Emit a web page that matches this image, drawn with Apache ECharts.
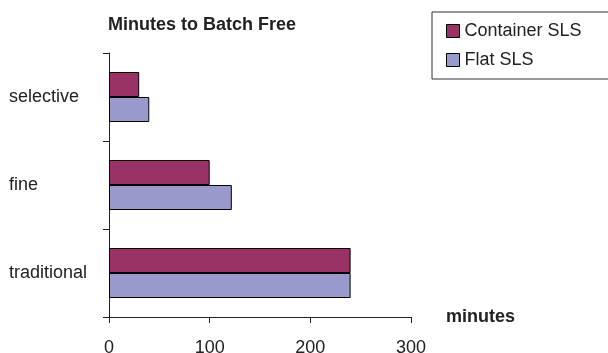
<!DOCTYPE html>
<html>
<head>
<meta charset="utf-8">
<script src="https://cdn.jsdelivr.net/npm/echarts@6/dist/echarts.min.js"></script>
<style>
    html, body { margin: 0; padding: 0; background: #fff; }
    #main { width: 608px; height: 353px; }
</style>
</head>
<body>
<div id="main"></div>
<script>
// 数据
var categories = ['traditional', 'fine', 'selective'];
var containerSls = [240, 100, 30];
var flatSls = [240, 122, 40];
var xTicks = [0, 100, 200, 300];

var fontFamily = '"Liberation Sans", Arial, sans-serif';
var myChart = echarts.init(document.getElementById('main'));

var option = {
    animation: false,
    backgroundColor: '#fff',
    title: {
        text: 'Minutes to Batch Free',
        left: 103,
        top: 11,
        textStyle: { fontFamily: fontFamily, fontSize: 18, fontWeight: 'bold', color: '#222' }
    },
    legend: {
        data: ['Container SLS', 'Flat SLS'],
        orient: 'vertical',
        left: 432,
        top: 12,
        padding: [10, 60, 10, 14],
        itemWidth: 13,
        itemHeight: 13,
        itemGap: 11,
        borderColor: '#333',
        borderWidth: 1,
        icon: 'rect',
        itemStyle: { borderColor: '#000', borderWidth: 1 },
        textStyle: { fontFamily: fontFamily, fontSize: 18, lineHeight: 18, color: '#222' }
    },
    // 绘图区
    grid: { left: 109, right: 197, top: 53, bottom: 36, containLabel: false, outerBoundsMode: 'none' },
    xAxis: {
        type: 'value',
        min: xTicks[0],
        max: xTicks[xTicks.length - 1],
        interval: 100,
        name: 'minutes',
        nameLocation: 'end',
        nameGap: 35,
        nameTextStyle: { fontFamily: fontFamily, fontSize: 18, fontWeight: 'bold', color: '#222', verticalAlign: 'middle' },
        axisLine: { show: true, lineStyle: { color: '#222', width: 1 } },
        axisTick: { show: true, length: 6, lineStyle: { color: '#222' } },
        axisLabel: { margin: 22, fontFamily: fontFamily, fontSize: 18, color: '#222' },
        splitLine: { show: false }
    },
    yAxis: {
        type: 'category',
        data: categories,
        axisLine: { show: true, lineStyle: { color: '#222', width: 1 } },
        axisTick: { show: true, length: 6, lineStyle: { color: '#222' } },
        axisLabel: { align: 'left', margin: 100, fontFamily: fontFamily, fontSize: 18, color: '#222' }
    },
    series: [
        {
            name: 'Container SLS',
            type: 'bar',
            data: containerSls,
            barWidth: 25,
            barGap: 0,
            itemStyle: { color: '#993366', borderColor: '#000', borderWidth: 1 }
        },
        {
            name: 'Flat SLS',
            type: 'bar',
            data: flatSls,
            barWidth: 25,
            barGap: 0,
            itemStyle: { color: '#9999CC', borderColor: '#000', borderWidth: 1 }
        }
    ]
};

myChart.setOption(option);
</script>
</body>
</html>
